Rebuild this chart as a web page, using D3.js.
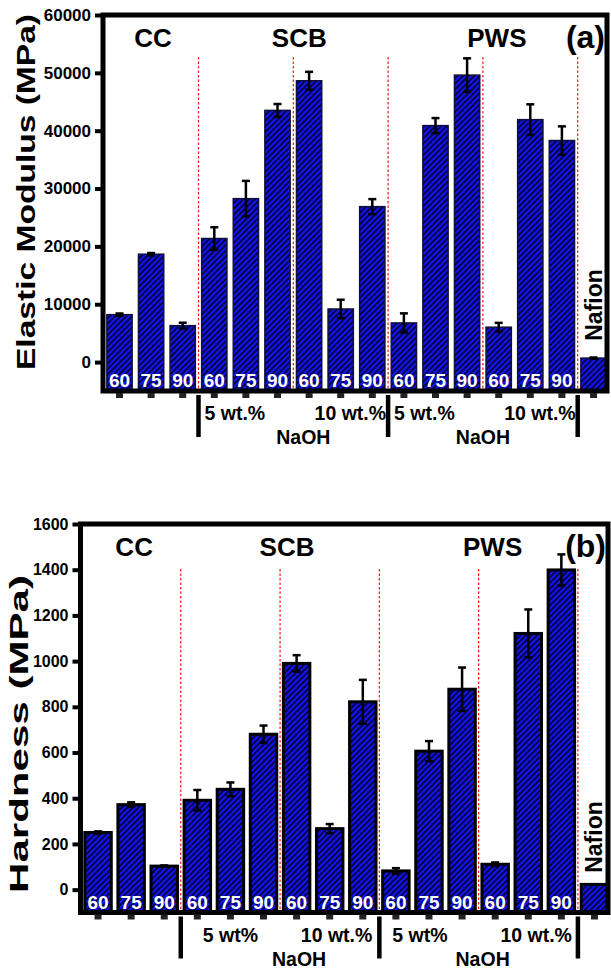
<!DOCTYPE html>
<html>
<head>
<meta charset="utf-8">
<script src="https://cdn.jsdelivr.net/npm/d3@7/dist/d3.min.js"></script>
<style>
  html, body { margin: 0; padding: 0; background: #fff; }
  svg { display: block; }
  text { font-family: "Liberation Sans", Arial, sans-serif; font-weight: bold; }
</style>
</head>
<body>
<svg id="chart" width="611" height="973"></svg>
<script>
// ---------------- DATA ----------------
const categories = [
  "CC 60", "CC 75", "CC 90",
  "SCB 5wt 60", "SCB 5wt 75", "SCB 5wt 90",
  "SCB 10wt 60", "SCB 10wt 75", "SCB 10wt 90",
  "PWS 5wt 60", "PWS 5wt 75", "PWS 5wt 90",
  "PWS 10wt 60", "PWS 10wt 75", "PWS 10wt 90",
  "Nafion"
];
const barLabels = ["60","75","90","60","75","90","60","75","90","60","75","90","60","75","90",""];

const modulusValues = [8200, 18650, 6300, 21360, 28250, 43510, 48630, 9180, 26870, 6770, 40880, 49610, 6030, 41910, 38300, 690];
const modulusErrors = [200, 200, 500, 1950, 3070, 1100, 1550, 1600, 1300, 1650, 1300, 2900, 750, 2650, 2450, 100];
const modulusTicks = [0, 10000, 20000, 30000, 40000, 50000, 60000];

const hardnessValues = [250, 372, 103, 391, 439, 680, 990, 267, 822, 82, 606, 877, 111, 1121, 1399, 23];
const hardnessErrors = [5, 10, 3, 45, 30, 38, 36, 20, 96, 12, 44, 95, 8, 105, 68, 0];
const hardnessTicks = [0, 200, 400, 600, 800, 1000, 1200, 1400, 1600];

const groupTitles = ["CC", "SCB", "PWS"];
const modulusSubLabels = ["5 wt.%", "10 wt.%", "5 wt.%", "10 wt.%"];
const hardnessSubLabels = ["5 wt%", "10 wt.%", "5 wt%", "10 wt.%"];
const treatmentLabel = "NaOH";
const nafionLabel = "Nafion";

// ---------------- DRAW ----------------
const svg = d3.select("#chart");
const defs = svg.append("defs");
const pat = defs.append("pattern")
  .attr("id", "hatch")
  .attr("patternUnits", "userSpaceOnUse")
  .attr("width", 4).attr("height", 4)
  .attr("patternTransform", "rotate(45)");
pat.append("rect").attr("width", 4).attr("height", 4).attr("fill", "#1414f2");
pat.append("line").attr("x1", 1).attr("y1", 0).attr("x2", 1).attr("y2", 4)
  .attr("stroke", "#000020").attr("stroke-width", 1.6);

function drawPanel(cfg) {
  const g = svg.append("g");
  const x = d3.scaleBand().domain(categories).range(cfg.xRange).paddingInner(0.2).paddingOuter(0.1);
  const y = d3.scaleLinear().domain(cfg.yDomain).range([cfg.frame.bottom, cfg.frame.top]);
  const cx = c => x(c) + x.bandwidth() / 2;

  // dividers (red dotted)
  const dividerIdx = [2, 5, 8, 11, 14];
  dividerIdx.forEach(i => {
    const dx = (cx(categories[i]) + cx(categories[i + 1])) / 2;
    g.append("line")
      .attr("x1", dx).attr("x2", dx)
      .attr("y1", cfg.dividerTop).attr("y2", cfg.frame.bottom)
      .attr("stroke", "#f01818").attr("stroke-width", 1.2)
      .attr("stroke-dasharray", "2.5,2");
  });

  // bars
  const data = categories.map((c, i) => ({ c, v: cfg.values[i], e: cfg.errors[i], lab: barLabels[i] }));
  g.selectAll("rect.bar").data(data).enter().append("rect")
    .attr("class", "bar")
    .attr("x", d => x(d.c))
    .attr("width", x.bandwidth())
    .attr("y", d => y(d.v))
    .attr("height", d => y(cfg.yDomain[0]) - y(d.v))
    .attr("fill", "url(#hatch)")
    .attr("stroke", cfg.barStroke)
    .attr("stroke-width", cfg.barStrokeWidth);

  // error bars
  const eb = g.selectAll("g.err").data(data.filter(d => d.e > 0)).enter().append("g");
  eb.append("line")
    .attr("x1", d => cx(d.c)).attr("x2", d => cx(d.c))
    .attr("y1", d => y(d.v + d.e)).attr("y2", d => y(d.v - d.e))
    .attr("stroke", "#000").attr("stroke-width", 2.5);
  [1, -1].forEach(s => {
    eb.append("line")
      .attr("x1", d => cx(d.c) - 4).attr("x2", d => cx(d.c) + 4)
      .attr("y1", d => y(d.v + s * d.e)).attr("y2", d => y(d.v + s * d.e))
      .attr("stroke", "#000").attr("stroke-width", 2.5);
  });

  // bar labels
  g.selectAll("text.blab").data(data.filter(d => d.lab)).enter().append("text")
    .attr("x", d => cx(d.c)).attr("y", cfg.frame.bottom - 4)
    .attr("text-anchor", "middle").attr("fill", "#fff")
    .attr("font-size", 19).text(d => d.lab);

  // frame
  g.append("rect")
    .attr("x", cfg.frame.left).attr("y", cfg.frame.top)
    .attr("width", cfg.frame.right - cfg.frame.left)
    .attr("height", cfg.frame.bottom - cfg.frame.top)
    .attr("fill", "none").attr("stroke", "#000").attr("stroke-width", 5);

  // y axis
  const yAxis = d3.axisLeft(y).tickValues(cfg.ticks).tickSize(6).tickPadding(4).tickFormat(d3.format("d"));
  const ya = g.append("g").attr("transform", `translate(${cfg.frame.left - 2},0)`).call(yAxis);
  ya.select(".domain").remove();
  ya.selectAll(".tick line").attr("stroke", "#000").attr("stroke-width", 4);
  ya.selectAll(".tick text").attr("font-size", cfg.tickFont).attr("fill", "#000")
    .attr("font-family", '"Liberation Sans", Arial, sans-serif').attr("font-weight", "bold");

  // x ticks below axis
  const xAxis = d3.axisBottom(x).tickSize(5).tickFormat("");
  const xa = g.append("g").attr("transform", `translate(0,${cfg.frame.bottom + 2})`).call(xAxis);
  xa.select(".domain").remove();
  xa.selectAll(".tick line").attr("stroke", "#222").attr("stroke-width", 7);

  // thick separators below axis
  [2, 8, 14].forEach(i => {
    const dx = (cx(categories[i]) + cx(categories[i + 1])) / 2;
    g.append("line")
      .attr("x1", dx).attr("x2", dx)
      .attr("y1", cfg.frame.bottom + 4).attr("y2", cfg.frame.bottom + 46)
      .attr("stroke", "#000").attr("stroke-width", 4.5);
  });

  // sub labels (concentration)
  const dvx = i => (cx(categories[i]) + cx(categories[i + 1])) / 2;
  const subPos = [
    { x: dvx(2) + cfg.subOff[0], a: "start" },
    { x: dvx(8) + cfg.subOff[1], a: "end" },
    { x: dvx(8) + cfg.subOff[2], a: "start" },
    { x: dvx(14) + cfg.subOff[3], a: "end" }
  ];
  cfg.subLabels.forEach((t, i) => {
    g.append("text").attr("x", subPos[i].x).attr("y", cfg.frame.bottom + 29)
      .attr("text-anchor", subPos[i].a).attr("font-size", 19.5).text(t);
  });
  [[dvx(2), dvx(8)], [dvx(8), dvx(14)]].forEach((p, i) => {
    g.append("text").attr("x", (p[0] + p[1]) / 2 + cfg.naohOff[i]).attr("y", cfg.frame.bottom + 53)
      .attr("text-anchor", "middle").attr("font-size", 19.5).text(treatmentLabel);
  });

  // group titles
  const groupCenters = [
    cx(categories[1]) + cfg.titleOff[0],
    (cx(categories[3]) + cx(categories[8])) / 2 + cfg.titleOff[1],
    (cx(categories[9]) + cx(categories[14])) / 2 + cfg.titleOff[2]
  ];
  groupTitles.forEach((t, i) => {
    g.append("text").attr("x", groupCenters[i]).attr("y", cfg.titleY)
      .attr("text-anchor", "middle").attr("font-size", 26).text(t);
  });
  g.append("text").attr("x", cfg.frame.right - 2).attr("y", cfg.titleY + 1)
    .attr("text-anchor", "end").attr("font-size", 32).text(cfg.panelLabel);

  // Nafion rotated
  const nx = cx(categories[15]);
  g.append("text")
    .attr("transform", `translate(${nx + 8},${cfg.nafionY}) rotate(-90)`)
    .attr("text-anchor", "middle").attr("font-size", 23).text(nafionLabel);

  // y title
  g.append("text")
    .attr("transform", `translate(${cfg.yTitleX},${cfg.yTitleY}) rotate(-90)`)
    .attr("text-anchor", "middle").attr("font-size", 25)
    .attr("textLength", cfg.yTitleLen).attr("lengthAdjust", "spacingAndGlyphs")
    .text(cfg.yTitle);
}

drawPanel({
  frame: { left: 103, top: 15, right: 607, bottom: 391 },
  xRange: [103.7, 609.3],
  yDomain: [-5000, 60000],
  ticks: modulusTicks,
  values: modulusValues,
  errors: modulusErrors,
  barStroke: "#10103a",
  barStrokeWidth: 1.5,
  tickFont: 17,
  dividerTop: 57,
  subLabels: modulusSubLabels,
  subOff: [6, -2, 6, -2],
  naohOff: [10, 0],
  titleOff: [2, 6, 14],
  titleY: 47,
  panelLabel: "(a)",
  nafionY: 305,
  yTitle: "Elastic Modulus (MPa)",
  yTitleX: 35,
  yTitleY: 192,
  yTitleLen: 356
});

drawPanel({
  frame: { left: 80.5, top: 524, right: 608, bottom: 912.5 },
  xRange: [81.5, 611],
  yDomain: [-100, 1600],
  ticks: hardnessTicks,
  values: hardnessValues,
  errors: hardnessErrors,
  barStroke: "#000",
  barStrokeWidth: 3,
  tickFont: 16,
  dividerTop: 569,
  subLabels: hardnessSubLabels,
  subOff: [22, -7, 13, -6],
  naohOff: [19, 4],
  titleOff: [3, 7, 14],
  titleY: 556,
  panelLabel: "(b)",
  nafionY: 837,
  yTitle: "Hardness (MPa)",
  yTitleX: 28,
  yTitleY: 734,
  yTitleLen: 318
});
</script>
</body>
</html>
